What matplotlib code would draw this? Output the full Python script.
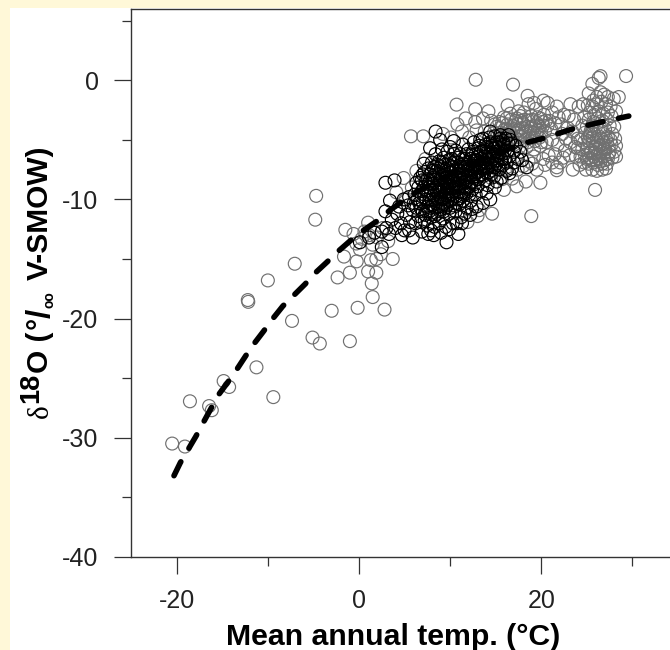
import matplotlib
matplotlib.use("Agg")
import matplotlib.pyplot as plt
from matplotlib.patches import Rectangle

# ---------- data (temp degC, d18O permil) ----------
gray_sparse = [
(-4.7,-9.7),(-4.8,-11.7),(-1.5,-12.55),(1.0,-11.95),(-0.6,-12.9),(-1.65,-14.8),(-0.25,-15.2),(1.3,-15.1),(1.9,-15.0),(3.7,-15.0),
(-1.0,-16.15),(-2.35,-16.55),(1.0,-16.05),(1.9,-16.15),(1.4,-17.05),(1.5,-18.2),(-0.15,-19.1),(-3.0,-19.35),(2.8,-19.25),
(-5.1,-21.6),(-4.3,-22.1),(-1.0,-21.9),(-7.05,-15.4),(-10.0,-16.8),(-12.2,-18.45),(-12.15,-18.6),(-7.35,-20.2),(-11.25,-24.1),
(-9.4,-26.6),(-14.85,-25.25),(-14.25,-25.75),(-18.55,-26.95),(-16.45,-27.35),(-16.15,-27.7),(-20.5,-30.5),(-19.1,-30.75),
(-0.3,-13.7),(0.3,-13.3),(0.6,-12.7),(1.5,-13.8),(2.0,-13.2),(2.6,-12.4),(1.1,-13.0),(3.2,-13.5),(0.1,-14.2),(2.4,-14.6),
]
gray_top = [
(12.8,0.05),(16.9,-0.36),(10.7,-2.04),(12.75,-2.43),(10.8,-3.7),(12.75,-3.5),(12.9,-4.2),(5.7,-4.7),(7.05,-4.7),(18.5,-1.3),(18.6,-2.0),
(20.25,-1.7),(16.3,-2.1),(21.7,-2.2),(23.2,-2.0),(24.1,-2.2),(22.5,-2.9),(23.6,-3.3),(21.2,-2.7),(19.4,-2.4),(17.5,-2.6),
(18.9,-11.4),(21.7,-7.3),(21.7,-7.55),(23.45,-7.5),(19.9,-8.6),(18.3,-8.5),(15.9,-9.2),(19.5,-7.5),(16.8,-8.25),(17.3,-8.9),
(15.5,-4.0),(14.5,-3.4),(15.9,-3.1),(16.6,-2.8),(17.3,-3.2),(18.1,-2.7),(18.9,-3.0),(19.6,-3.1),(20.3,-2.9),(20.9,-3.4),
(14.8,-4.4),(15.4,-3.5),(16.0,-4.1),(16.3,-3.7),(16.7,-3.3),(17.0,-4.1),(17.4,-3.7),(17.7,-3.0),(18.0,-3.6),(18.3,-4.3),
(18.6,-3.4),(18.9,-3.9),(19.2,-4.4),(19.5,-3.6),(19.8,-3.9),(20.1,-3.5),(20.4,-4.3),(20.7,-3.8),(21.1,-4.1),(21.5,-3.6),
(15.2,-4.7),(15.8,-4.9),(16.3,-4.5),(16.8,-4.8),(17.2,-4.4),(17.7,-4.7),(18.2,-5.0),(18.7,-4.7),(19.3,-5.1),(19.8,-4.8),
(14.6,-5.2),(15.3,-5.5),(16.1,-5.3),(17.0,-5.4),(17.6,-5.6),(18.4,-5.6),(19.2,-5.8),(19.9,-5.5),(20.6,-5.2),(21.2,-5.0),
(21.8,-5.4),(22.3,-4.5),(22.9,-4.0),(23.2,-5.2),(22.6,-5.9),(21.5,-6.2),(20.8,-6.3),(20.2,-6.6),(19.2,-6.4),(18.6,-6.8),
(19.0,-7.0),(22.1,-6.9),(23.8,-6.4),(24.0,-4.9),(18.0,-7.2),(17.4,-7.5),(16.2,-7.5),(15.7,-8.3),(15.0,-7.4),(14.5,-8.2),
(13.6,-3.2),(14.2,-2.6),(13.8,-4.3),(11.7,-3.2),(11.3,-4.3),(10.1,-4.8),(9.2,-4.5),(12.1,-4.8),(20.7,-1.9),(19.2,-1.9),
(5.8,-9.0),(4.9,-8.2),(4.1,-9.4),(5.1,-10.0),(6.3,-7.6),(7.3,-6.6),(11.9,-11.9),(13.2,-10.9),(14.6,-11.2),(13.0,-11.4),
(15.1,-3.9),(15.7,-3.6),(16.2,-3.2),(16.5,-4.2),(16.9,-3.8),(17.2,-3.4),(17.5,-4.2),(17.9,-4.0),(18.2,-3.3),(18.5,-3.9),
(18.8,-4.3),(19.0,-3.3),(19.3,-3.8),(19.6,-4.2),(20.0,-4.4),(20.2,-3.8),(20.5,-3.4),(15.5,-4.4),(16.0,-4.7),(16.6,-4.4),
(17.1,-4.8),(17.5,-5.0),(18.0,-4.5),(18.5,-5.2),(19.0,-4.8),(19.5,-4.5),(20.0,-5.2),(14.9,-3.7),(17.8,-3.4),(19.9,-3.2),
(21.9,-3.1),(22.2,-3.7),(23.0,-3.0),(23.4,-4.3),(22.7,-4.9),(23.7,-5.6),(22.4,-6.5),(23.1,-6.3),(21.2,-6.9),(20.4,-7.1),
]
gray_column = [
(29.3,0.36),(26.5,0.35),(26.3,0.2),(25.6,-0.3),(28.5,-1.4),(27.95,-1.55),(25.2,-1.1),(25.9,-9.2),(26.5,-1.0),(26.9,-1.2),
(26.1,-1.4),(25.7,-1.7),(27.3,-1.4),(24.6,-2.0),(25.1,-2.1),(25.6,-2.2),(26.1,-2.0),(26.6,-1.8),(27.1,-2.0),(27.6,-2.2),
(25.3,-2.7),(25.8,-2.9),(26.3,-2.6),(26.8,-2.8),(27.3,-2.7),(24.7,-3.1),(25.2,-3.3),(25.7,-3.5),(26.2,-3.2),(26.7,-3.4),
(27.2,-3.3),(27.7,-3.0),(28.2,-2.6),(24.5,-3.8),(25.0,-3.9),(25.5,-4.1),(26.0,-3.9),(26.5,-4.0),(27.0,-4.1),(27.5,-3.8),
(28.0,-3.9),(24.8,-4.4),(25.3,-4.6),(25.8,-4.5),(26.3,-4.7),(26.8,-4.5),(27.3,-4.7),(27.8,-4.5),(28.1,-4.9),(24.3,-5.0),
(24.7,-5.2),(25.2,-5.1),(25.7,-5.3),(26.2,-5.2),(26.7,-5.4),(27.2,-5.2),(27.7,-5.4),(28.2,-5.5),(24.0,-5.7),(24.5,-5.8),
(25.0,-5.7),(25.5,-5.9),(26.0,-5.8),(26.5,-6.0),(27.0,-5.8),(27.5,-6.0),(28.0,-6.0),(28.2,-6.4),(24.3,-6.4),(24.8,-6.3),
(25.3,-6.5),(25.8,-6.4),(26.3,-6.6),(26.8,-6.4),(27.3,-6.6),(27.8,-6.5),(24.7,-6.9),(25.2,-7.0),(25.7,-6.9),(26.2,-7.1),
(26.7,-7.0),(27.2,-7.0),(24.9,-7.5),(25.6,-7.5),(26.1,-7.6),(26.7,-7.5),(27.1,-7.4),(24.2,-7.1),(25.4,-4.3),(27.6,-5.0),
(25.9,-5.6),(26.4,-5.5),(26.9,-5.7),(27.4,-5.6),(25.1,-4.8),(25.6,-4.8),(26.1,-5.0),(26.6,-4.9),(27.1,-4.9),(25.4,-6.1),
(25.9,-6.1),(26.4,-6.3),(26.9,-6.1),(27.4,-6.2),(25.0,-6.6),(25.5,-6.7),(26.0,-6.7),(26.5,-6.8),(27.0,-6.7),(25.6,-3.8),
]
black_points = [
(2.9,-8.6),(3.9,-8.4),(8.4,-4.3),(7.8,-5.7),(8.9,-5.0),(10.4,-5.1),(9.6,-13.6),(10.9,-12.9),(8.2,-13.0),(7.6,-12.9),
(5.9,-13.2),(6.9,-12.7),(14.4,-10.0),(12.4,-10.8),(2.9,-11.0),(3.4,-10.1),(4.0,-12.4),(2.5,-12.7),(0.1,-13.6),(2.5,-14.0),
(18.4,-7.3),(17.9,-6.7),(17.0,-6.9),(16.4,-4.6),(14.4,-4.3),(13.3,-5.0),(15.5,-4.6),(16.8,-5.3),(17.7,-6.0),(15.4,-5.2),
(1.1,-13.2),(1.7,-12.8),(3.0,-12.4),(3.6,-11.7),(4.2,-11.2),(4.6,-12.0),(5.0,-12.6),(5.2,-11.3),(5.6,-11.9),(4.4,-10.6),
(4.9,-10.0),(5.4,-10.5),(5.9,-10.9),(6.2,-12.0),(6.5,-11.4),(6.1,-9.6),(6.6,-10.3),(6.9,-9.3),(7.0,-11.0),(7.2,-11.8),
(7.3,-8.5),(7.4,-10.0),(7.5,-12.2),(7.6,-7.4),(7.7,-9.0),(7.8,-10.7),(7.9,-11.5),(8.0,-6.9),(8.1,-8.2),(8.2,-9.6),
(8.3,-12.3),(8.4,-6.2),(8.5,-7.6),(8.5,-10.3),(8.6,-11.2),(8.7,-8.8),(8.8,-6.8),(8.8,-12.0),(8.9,-9.4),(9.0,-7.3),
(9.0,-10.8),(9.1,-5.8),(9.2,-8.2),(9.2,-11.6),(9.3,-6.5),(9.4,-9.9),(9.5,-12.3),(9.5,-7.9),(9.6,-8.8),(9.7,-6.0),
(9.7,-10.5),(9.8,-7.1),(9.9,-11.2),(10.0,-9.3),(10.0,-5.6),(10.1,-8.1),(10.2,-6.6),(10.2,-10.0),(10.3,-12.0),(10.4,-7.6),
(10.5,-8.7),(10.6,-5.9),(10.6,-11.0),(10.7,-9.7),(10.8,-6.9),(10.9,-7.9),(11.0,-10.4),(11.1,-6.2),(11.1,-8.9),(11.2,-11.5),
(11.3,-7.3),(11.4,-5.4),(11.5,-9.6),(11.6,-8.2),(11.7,-6.6),(11.8,-10.7),(11.9,-7.6),(12.0,-5.8),(12.0,-9.0),(12.1,-6.9),
(12.2,-8.0),(12.3,-10.1),(12.4,-6.3),(12.5,-7.2),(12.6,-5.2),(12.7,-8.7),(12.8,-9.6),(12.9,-6.7),(13.0,-7.7),(13.1,-5.7),
(13.2,-8.3),(13.3,-6.1),(13.4,-9.3),(13.5,-7.0),(13.6,-4.9),(13.7,-8.0),(13.8,-6.4),(13.9,-5.4),(14.0,-7.4),(14.1,-8.8),
(14.2,-6.0),(14.3,-4.8),(14.4,-6.9),(14.5,-7.9),(14.6,-5.5),(14.7,-6.4),(14.8,-7.3),(14.9,-4.7),(15.0,-6.0),(15.1,-8.5),
(15.2,-6.7),(15.3,-5.6),(15.4,-7.5),(15.5,-4.9),(15.7,-6.2),(15.8,-7.1),(15.9,-5.4),(16.0,-6.6),(16.1,-4.9),(16.2,-7.6),
(16.3,-5.9),(16.5,-6.4),(16.6,-5.0),(16.8,-7.4),(17.0,-6.0),(17.2,-5.5),(17.4,-6.6),(7.2,-9.6),(7.5,-8.3),(7.7,-11.0),
(8.0,-10.0),(8.2,-7.3),(8.4,-9.0),(8.6,-9.9),(8.3,-11.4),(8.9,-8.3),(9.1,-9.0),(9.3,-10.4),(9.4,-7.1),(9.6,-9.4),
(9.8,-8.5),(10.0,-10.7),(10.1,-7.2),(10.3,-9.0),(10.4,-6.2),(10.6,-8.1),(10.8,-10.0),(10.9,-9.0),(11.0,-7.6),(11.2,-8.3),
(11.4,-10.1),(11.5,-7.0),(11.7,-9.0),(11.9,-8.4),(12.1,-9.6),(12.2,-7.4),(12.4,-8.5),(12.6,-6.8),(12.8,-7.4),(13.0,-8.9),
(13.2,-7.1),(13.5,-7.9),(13.7,-6.8),(13.9,-8.4),(14.1,-7.0),(14.3,-7.7),(14.6,-6.6),(14.8,-8.1),(15.1,-7.0),(15.3,-6.3),
(6.3,-8.6),(6.7,-8.2),(7.0,-7.9),(7.1,-7.0),(6.8,-11.9),(6.4,-10.0),(6.0,-10.3),(5.5,-9.8),(7.9,-12.6),(9.0,-12.8),
(9.9,-12.5),(10.7,-12.0),(11.3,-12.0),(11.6,-11.2),(12.2,-11.3),(12.9,-10.6),(13.6,-10.3),(14.0,-9.5),(14.9,-9.0),(15.6,-8.2),
(16.5,-7.8),(3.3,-12.9),(4.7,-13.0),(5.5,-12.6),
]
black_core = [
(6.8,-10.8),(7.0,-10.2),(7.1,-9.0),(7.3,-11.3),(7.4,-9.3),(7.5,-10.6),(7.6,-8.7),(7.7,-10.1),(7.8,-7.9),(7.9,-9.5),
(8.0,-11.1),(8.1,-8.7),(8.1,-10.5),(8.2,-8.0),(8.3,-9.2),(8.4,-10.7),(8.5,-8.3),(8.6,-7.1),(8.6,-9.4),(8.7,-10.6),
(8.8,-7.9),(8.9,-9.8),(8.9,-11.0),(9.0,-8.6),(9.1,-10.0),(9.1,-6.9),(9.2,-9.2),(9.3,-7.6),(9.3,-11.0),(9.4,-8.5),
(9.5,-9.6),(9.5,-10.7),(9.6,-7.4),(9.7,-9.1),(9.7,-8.1),(9.8,-10.0),(9.9,-6.7),(9.9,-8.8),(10.0,-7.7),(10.0,-10.1),
(10.1,-9.6),(10.2,-8.5),(10.3,-7.3),(10.3,-10.5),(10.4,-9.3),(10.5,-8.0),(10.5,-6.8),(10.6,-9.0),(10.7,-7.4),(10.7,-10.3),
(10.8,-8.4),(10.9,-6.5),(11.0,-9.4),(11.0,-8.2),(11.1,-7.1),(11.2,-9.7),(11.3,-8.6),(11.4,-6.6),(11.4,-7.8),(11.5,-8.9),
(11.6,-7.3),(11.7,-8.5),(11.8,-6.2),(11.8,-9.5),(11.9,-7.1),(12.0,-8.1),(12.1,-8.9),(12.2,-6.6),(12.3,-7.7),(12.4,-9.2),
(12.5,-6.0),(12.6,-8.1),(12.7,-7.2),(12.8,-6.2),(12.9,-8.3),(13.0,-6.4),(13.1,-7.3),(13.2,-5.5),(13.3,-7.6),(13.4,-6.6),
(13.6,-7.4),(13.7,-5.9),(13.8,-7.2),(13.9,-6.1),(14.0,-5.6),(14.1,-6.6),(14.2,-7.3),(14.4,-5.2),(14.5,-6.1),(14.7,-7.0),
(14.8,-5.7),(15.0,-6.8),(15.1,-5.2),(15.3,-7.1),(15.5,-5.8),(15.6,-6.6),(15.8,-5.1),(16.0,-5.9),(16.2,-6.9),(16.4,-5.3),
(6.5,-9.0),(6.3,-10.7),(6.9,-8.4),(7.2,-7.7),(7.4,-11.0),(7.8,-8.4),(8.0,-7.6),(8.3,-10.0),(8.7,-7.4),(8.8,-9.2),
(9.0,-9.9),(9.2,-10.4),(9.4,-9.0),(9.8,-9.7),(10.1,-8.9),(10.4,-8.4),(10.7,-8.8),(11.1,-9.9),(11.3,-7.9),(11.6,-9.4),
(12.0,-7.4),(12.3,-8.6),(12.7,-7.9),(13.1,-8.1),(13.4,-6.0),(13.8,-7.7),(14.2,-6.6),(14.6,-7.2),(15.0,-5.4),(15.4,-6.1),
]
curve_points = [
(-20.3,-33.2),(-19.6,-32.1),(-18.9,-31.2),(-17.9,-29.9),(-17.2,-28.9),(-16.2,-27.5),(-15.6,-26.6),(-14.3,-25.25),
(-13.6,-24.5),(-12.4,-23.1),(-11.6,-22.2),(-10.5,-21.1),(-9.55,-20.1),(-8.35,-18.95),(-7.35,-18.2),(-5.9,-17.1),
(-5.05,-16.35),(-3.5,-15.25),(-2.5,-14.5),(-1.0,-13.5),(0.1,-12.8),(2.0,-11.8),(3.4,-10.9),(6.0,-9.5),(10.0,-7.9),
(14.0,-6.5),(18.0,-5.3),(20.1,-4.9),(23.55,-4.05),(26.85,-3.45),(29.6,-3.0),
]
x_major = [-20, 0, 20]
x_minor = [-10, 10, 30]
y_major = [0, -10, -20, -30, -40]
y_minor = [5, -5, -15, -25, -35]

# ---------- layout ----------
W, H = 670, 650
def fx(p): return p / W
def fy(p): return 1 - p / H

plt.rcParams['font.family'] = ['Liberation Sans', 'DejaVu Sans']
fig = plt.figure(figsize=(W / 100, H / 100), dpi=100, facecolor='#FFF8D8')
fig.patches.append(Rectangle((fx(10), 0), 1 - fx(10), fy(8), transform=fig.transFigure,
                             facecolor='white', edgecolor='none', zorder=-5))
ax = fig.add_axes([fx(130.5), fy(556.7), fx(670 - 130.5), (556.7 - 9) / H])
ax.patch.set_alpha(0)
ax.set_xlim(-25.07, 34.12)
ax.set_ylim(-40, 5.99)
ax.spines['right'].set_visible(False)
for s in ['left', 'top', 'bottom']:
    ax.spines[s].set_linewidth(1.0)
    ax.spines[s].set_color('#333333')

ax.set_xticks(x_major)
ax.set_xticks(x_minor, minor=True)
ax.set_yticks(y_major)
ax.set_yticks(y_minor, minor=True)
ax.tick_params(axis='both', which='major', length=12, width=0.9, color='#333333',
               labelsize=18, labelcolor='#222222')
ax.tick_params(axis='both', which='minor', length=6.3, width=0.9, color='#333333')
ax.tick_params(axis='x', which='major', pad=11)
ax.tick_params(axis='y', which='major', pad=11)
ax.set_xticklabels([str(v) for v in x_major])
ax.set_yticklabels([str(v) for v in y_major])

GRAY = '#707070'
for pts in (gray_sparse, gray_top, gray_column):
    ax.scatter([p[0] for p in pts], [p[1] for p in pts], s=86, facecolors='none',
               edgecolors=GRAY, linewidths=0.85, zorder=2)
ax.plot([p[0] for p in curve_points], [p[1] for p in curve_points], color='black', lw=4,
        dash_capstyle='round', dashes=(2.8, 2.83), solid_joinstyle='round', zorder=3)
for pts in (black_points, black_core):
    ax.scatter([p[0] for p in pts], [p[1] for p in pts], s=86, facecolors='none',
               edgecolors='black', linewidths=0.85, zorder=4)

# ---------- labels ----------
fig.text(fx(393), fy(645), 'Mean annual temp. (°C)', fontsize=21.8, fontweight='bold',
         ha='center', va='baseline', color='black')

def ylab(s, xp, yp, size, bold=True, family=None):
    fig.text(fx(xp), fy(yp), s, fontsize=size, fontweight='bold' if bold else 'normal',
             rotation=90, ha='left', va='baseline', rotation_mode='anchor',
             family=family or ['Liberation Sans', 'DejaVu Sans'], color='black')

ylab('δ', 48, 418, 21, bold=False, family=['Liberation Serif', 'DejaVu Serif'])
ylab('18', 38, 403, 19.5)
ylab('O (', 48, 373, 21.5)
ylab('°', 48, 329, 22)
ylab('/', 50, 318, 24)
ylab('oo', 54, 308, 10)
ylab('V-SMOW)', 48, 280, 21.5)

fig.savefig('out.png', dpi=100, facecolor=fig.get_facecolor())
